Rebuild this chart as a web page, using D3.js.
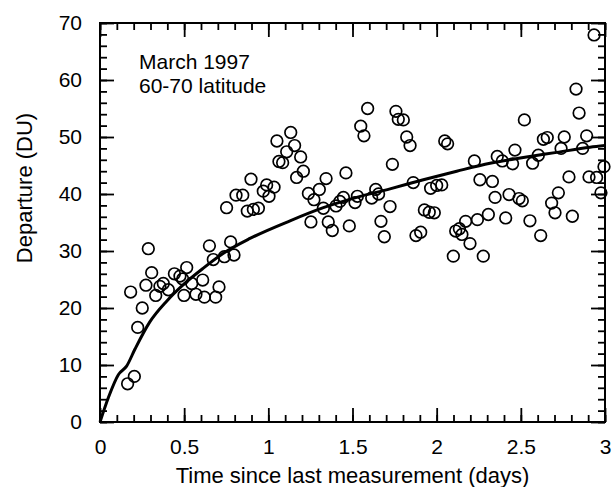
<!DOCTYPE html>
<html>
<head>
<meta charset="utf-8">
<script src="https://cdn.jsdelivr.net/npm/d3@7"></script>
<style>
  html, body { margin: 0; padding: 0; background: #fff; }
  svg { display: block; }
  text { font-family: "Liberation Sans", Arial, Helvetica, sans-serif; fill: #000; }
</style>
</head>
<body>
<svg id="chart" width="612" height="487"></svg>
<script>
// ---- data ----
const xTicks = [0, 0.5, 1, 1.5, 2, 2.5, 3];
const xTickLabels = ["0", "0.5", "1", "1.5", "2", "2.5", "3"];
const yTicks = [0, 10, 20, 30, 40, 50, 60, 70];
const yTickLabels = ["0", "10", "20", "30", "40", "50", "60", "70"];
const xMinor = d3.range(0, 31).map(i => i / 10);
const yMinor = d3.range(0, 36).map(i => i * 2);

// observed departures: time (days) and departure (DU)
const obsTime = [
  0.164, 0.204, 0.224, 0.251, 0.182, 0.287, 0.273, 0.307, 0.331, 0.356,
  0.376, 0.406, 0.442, 0.475, 0.491, 0.515, 0.499, 0.545, 0.570, 0.610,
  0.620, 0.687, 0.707, 0.650, 0.673, 0.739, 0.776, 0.796, 0.752, 0.808,
  0.848, 0.875, 0.911, 0.941, 0.897, 0.970, 0.990, 1.004, 1.034, 1.051,
  1.063, 1.085, 1.109, 1.133, 1.156, 1.192, 1.208, 1.168, 1.238, 1.271,
  1.303, 1.343, 1.327, 1.253, 1.356, 1.380, 1.402, 1.425, 1.446, 1.461,
  1.481, 1.515, 1.529, 1.549, 1.568, 1.590, 1.614, 1.638, 1.655, 1.669,
  1.689, 1.723, 1.737, 1.758, 1.772, 1.802, 1.822, 1.842, 1.861, 1.877,
  1.905, 1.927, 1.956, 1.986, 1.964, 2.000, 2.030, 2.048, 2.065, 2.099,
  2.113, 2.135, 2.150, 2.172, 2.198, 2.224, 2.242, 2.257, 2.277, 2.307,
  2.331, 2.347, 2.360, 2.390, 2.410, 2.430, 2.451, 2.465, 2.489, 2.509,
  2.521, 2.554, 2.570, 2.604, 2.618, 2.634, 2.657, 2.683, 2.703, 2.723,
  2.739, 2.758, 2.786, 2.806, 2.828, 2.846, 2.867, 2.891, 2.905, 2.935,
  2.950, 2.976, 2.994
];
const obsDeparture = [
  6.7, 8.0, 16.6, 20.0, 22.8, 30.4, 24.0, 26.2, 22.2, 23.8,
  24.3, 23.2, 26.0, 25.6, 25.1, 27.1, 22.2, 24.3, 22.4, 24.9,
  21.9, 21.9, 23.7, 30.9, 28.5, 29.0, 31.6, 29.3, 37.6, 39.8,
  39.8, 37.0, 37.3, 37.5, 42.6, 40.5, 41.6, 39.6, 41.2, 49.3,
  45.7, 45.5, 47.4, 50.8, 48.5, 46.5, 44.0, 42.9, 40.1, 39.0,
  40.8, 42.7, 37.5, 35.1, 35.1, 33.6, 37.9, 38.7, 39.4, 43.7,
  34.4, 38.5, 39.6, 51.9, 50.2, 55.0, 39.3, 40.8, 40.0, 35.2,
  32.5, 37.8, 45.2, 54.5, 53.1, 53.0, 50.0, 48.5, 42.0, 32.7,
  33.3, 37.2, 36.8, 36.7, 41.0, 41.5, 41.6, 49.3, 48.8, 29.1,
  33.5, 33.9, 32.9, 35.2, 31.3, 45.8, 35.5, 42.5, 29.1, 36.4,
  42.2, 39.4, 46.6, 45.8, 35.8, 39.9, 45.3, 47.7, 39.2, 38.8,
  53.0, 35.3, 45.4, 46.8, 32.7, 49.6, 49.9, 38.4, 36.7, 40.2,
  48.0, 50.0, 43.0, 36.1, 58.4, 54.2, 48.0, 50.2, 43.0, 67.9,
  42.9, 40.2, 44.8
];

// fitted curve
const fitTime = [0, 0.05, 0.109, 0.158, 0.208, 0.297, 0.396, 0.495, 0.614, 0.733,
  0.891, 1.129, 1.327, 1.525, 1.723, 1.921, 2.119, 2.317, 2.515, 2.713, 2.911, 3.0];
const fitDeparture = [0, 4.3, 8.3, 9.8, 12.8, 17.6, 21.2, 24.1, 27.0, 29.6,
  32.2, 35.3, 37.6, 39.4, 40.9, 42.5, 44.0, 45.4, 46.4, 47.3, 48.2, 48.5];

// ---- layout ----
const L = 100, R = 605, T = 23, B = 422;
const svg = d3.select("#chart");
const x = d3.scaleLinear().domain([0, 3]).range([L, R]);
const y = d3.scaleLinear().domain([0, 70]).range([B, T]);
const MAJ = 14, MIN = 7;

function styleAxis(g) {
  g.select(".domain").remove();
  g.selectAll("line").attr("stroke", "#000").attr("stroke-width", 1.8);
  g.selectAll("text").attr("font-size", 21).attr("fill", "#000")
    .attr("font-family", '"Liberation Sans", Arial, Helvetica, sans-serif');
}

// minor ticks
svg.append("g").attr("transform", `translate(0,${B})`)
  .call(d3.axisBottom(x).tickValues(xMinor).tickSize(-MIN).tickFormat(""))
  .call(styleAxis);
svg.append("g").attr("transform", `translate(0,${T})`)
  .call(d3.axisTop(x).tickValues(xMinor).tickSize(-MIN).tickFormat(""))
  .call(styleAxis);
svg.append("g").attr("transform", `translate(${L},0)`)
  .call(d3.axisLeft(y).tickValues(yMinor).tickSize(-MIN).tickFormat(""))
  .call(styleAxis);
svg.append("g").attr("transform", `translate(${R},0)`)
  .call(d3.axisRight(y).tickValues(yMinor).tickSize(-MIN).tickFormat(""))
  .call(styleAxis);

// major ticks + labels
svg.append("g").attr("transform", `translate(0,${B})`)
  .call(d3.axisBottom(x).tickValues(xTicks).tickSize(-MAJ).tickPadding(17)
    .tickFormat((d, i) => xTickLabels[i]))
  .call(styleAxis);
svg.append("g").attr("transform", `translate(0,${T})`)
  .call(d3.axisTop(x).tickValues(xTicks).tickSize(-MAJ).tickFormat(""))
  .call(styleAxis);
svg.append("g").attr("transform", `translate(${L},0)`)
  .call(d3.axisLeft(y).tickValues(yTicks).tickSize(-MAJ).tickPadding(18)
    .tickFormat((d, i) => yTickLabels[i]))
  .call(styleAxis);
svg.append("g").attr("transform", `translate(${R},0)`)
  .call(d3.axisRight(y).tickValues(yTicks).tickSize(-MAJ).tickFormat(""))
  .call(styleAxis);

// frame
svg.append("rect").attr("x", L).attr("y", T).attr("width", R - L).attr("height", B - T)
  .attr("fill", "none").attr("stroke", "#000").attr("stroke-width", 2);

// circles
svg.append("g").selectAll("circle")
  .data(obsTime.map((t, i) => [t, obsDeparture[i]]))
  .join("circle")
  .attr("cx", d => x(d[0])).attr("cy", d => y(d[1])).attr("r", 5.8)
  .attr("fill", "none").attr("stroke", "#000").attr("stroke-width", 1.7);

// fit curve
const line = d3.line().x(d => x(d[0])).y(d => y(d[1])).curve(d3.curveMonotoneX);
svg.append("path").datum(fitTime.map((t, i) => [t, fitDeparture[i]]))
  .attr("d", line).attr("fill", "none").attr("stroke", "#000").attr("stroke-width", 3);

// annotation
svg.append("text").attr("x", 139).attr("y", 69).attr("font-size", 21).text("March 1997");
svg.append("text").attr("x", 139).attr("y", 93).attr("font-size", 21).text("60-70 latitude");

// axis titles
svg.append("text").attr("x", (L + R) / 2).attr("y", 483).attr("text-anchor", "middle")
  .attr("font-size", 22).text("Time since last measurement (days)");
svg.append("text").attr("transform", "translate(32,188) rotate(-90)")
  .attr("text-anchor", "middle").attr("font-size", 22).text("Departure (DU)");
</script>
</body>
</html>
